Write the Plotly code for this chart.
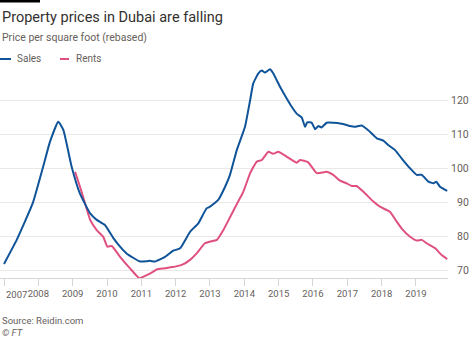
import plotly.graph_objects as go

# Sales index (decimal year, value)
sales_year = [2007.00, 2007.37, 2007.84, 2008.14, 2008.34, 2008.58, 2008.73, 2008.97,
              2009.21, 2009.51, 2009.70, 2009.94, 2010.18, 2010.38, 2010.57, 2010.96,
              2011.25, 2011.40, 2011.69, 2011.93, 2012.13, 2012.42, 2012.66, 2012.90,
              2013.00, 2013.24, 2013.44, 2013.58, 2013.78, 2014.02, 2014.17, 2014.26,
              2014.41, 2014.51, 2014.60, 2014.75, 2014.84, 2015.04, 2015.23, 2015.38,
              2015.53, 2015.67, 2015.77, 2015.83, 2015.96, 2016.06, 2016.16, 2016.25,
              2016.40, 2016.79, 2016.88, 2017.08, 2017.22, 2017.42, 2017.61, 2017.86,
              2018.05, 2018.19, 2018.39, 2018.58, 2018.83, 2019.02, 2019.17, 2019.36,
              2019.51, 2019.59, 2019.70, 2019.91]
sales_value = [71.8, 78.9, 89.8, 100.5, 107.9, 113.8, 111.3, 100.5,
               92.6, 86.7, 84.8, 83.3, 79.5, 76.9, 74.9, 72.5,
               72.7, 72.5, 73.9, 75.7, 76.4, 81.3, 83.8, 88.2,
               88.7, 90.7, 94.6, 98.0, 105.4, 112.3, 120.2, 125.1,
               128.1, 128.9, 128.3, 129.3, 128.1, 124.1, 120.7, 118.2,
               116.1, 115.1, 112.3, 113.6, 113.5, 111.6, 112.5, 112.1,
               113.5, 113.3, 113.1, 112.5, 112.3, 112.7, 111.3, 108.9,
               108.2, 106.9, 105.4, 103.0, 100.0, 98.1, 98.1, 96.1,
               95.6, 96.1, 94.6, 93.4]

# Rents index (decimal year, value)
rents_year = [2009.07, 2009.26, 2009.51, 2009.70, 2009.89, 2010.01, 2010.14, 2010.38,
              2010.67, 2010.94, 2011.16, 2011.35, 2011.45, 2011.69, 2011.84, 2011.98,
              2012.18, 2012.42, 2012.61, 2012.85, 2013.00, 2013.20, 2013.39, 2013.58,
              2013.82, 2013.97, 2014.17, 2014.36, 2014.51, 2014.70, 2014.84, 2014.99,
              2015.23, 2015.53, 2015.62, 2015.86, 2016.11, 2016.40, 2016.59, 2016.79,
              2016.98, 2017.13, 2017.27, 2017.47, 2017.76, 2017.95, 2018.24, 2018.44,
              2018.58, 2018.83, 2019.02, 2019.17, 2019.31, 2019.56, 2019.75, 2019.91]
rents_value = [99.0, 93.1, 84.8, 81.8, 79.8, 76.9, 77.1, 73.9,
               70.5, 67.6, 68.5, 69.5, 70.2, 70.5, 70.8, 71.0,
               71.5, 73.0, 74.9, 77.9, 78.4, 78.9, 81.8, 85.5,
               90.2, 93.1, 98.6, 102.0, 102.5, 104.9, 104.3, 104.9,
               103.5, 101.7, 102.5, 101.8, 98.6, 99.0, 98.1, 96.4,
               95.6, 94.8, 94.8, 93.1, 90.2, 88.7, 87.2, 84.3,
               82.3, 79.8, 78.7, 78.9, 77.9, 76.4, 74.4, 73.2]

year_ticks = list(range(2007, 2020))
value_ticks = [70, 80, 90, 100, 110, 120]

SALES_COLOR = "#0f5499"
RENTS_COLOR = "#e0507f"
GREY = "#66605c"
FONT = "Roboto"

W, H = 474, 338
L, R, T, B = 0, 26, 62, 60
PW, PH = W - L - R, H - T - B


def px(x):
    return (x - L) / PW


def py(y):
    return 1 - (y - T) / PH


fig = go.Figure()
fig.add_trace(go.Scatter(x=rents_year, y=rents_value, mode="lines", name="Rents",
                         line=dict(color=RENTS_COLOR, width=2, shape="spline", smoothing=0.4),
                         showlegend=False))
fig.add_trace(go.Scatter(x=sales_year, y=sales_value, mode="lines", name="Sales",
                         line=dict(color=SALES_COLOR, width=2, shape="spline", smoothing=0.4),
                         showlegend=False))

annotations = []
# right-aligned value labels
for v in value_ticks:
    annotations.append(dict(x=1, xref="paper", xshift=23, y=v, yref="y", text=str(v),
                            showarrow=False, xanchor="right", yanchor="middle",
                            font=dict(family=FONT, size=10.5, color=GREY)))
# first year label nudged inside the frame
annotations.append(dict(x=px(4), xref="paper", y=py(294), yref="paper",
                        text=str(year_ticks[0]), showarrow=False, xanchor="left", yanchor="middle",
                        font=dict(family=FONT, size=9.5, color=GREY)))

# headings, legend and footer
texts = [
    (0, 17, "Property prices in Dubai are falling", 14.5, "#33302e"),
    (0, 38, "Price per square foot (rebased)", 10.5, GREY),
    (15, 58.5, "Sales", 10, GREY),
    (74, 58.5, "Rents", 10, GREY),
    (0, 320, "Source: Reidin.com", 9.5, GREY),
    (0, 332, "<i>© FT</i>", 9.5, GREY),
]
for x, y, t, s, c in texts:
    annotations.append(dict(x=px(x), y=py(y), xref="paper", yref="paper", text=t,
                            showarrow=False, xanchor="left", yanchor="middle",
                            font=dict(family=FONT, size=s, color=c)))

shapes = [
    # black bar at top-left
    dict(type="rect", xref="paper", yref="paper", x0=px(0), x1=px(40), y0=py(0), y1=py(2.5),
         fillcolor="#000000", line=dict(width=0)),
    # legend swatches
    dict(type="line", xref="paper", yref="paper", x0=px(0), x1=px(11), y0=py(59), y1=py(59),
         line=dict(color=SALES_COLOR, width=2)),
    dict(type="line", xref="paper", yref="paper", x0=px(60), x1=px(69), y0=py(59), y1=py(59),
         line=dict(color=RENTS_COLOR, width=2)),
]

fig.update_layout(
    width=W, height=H,
    margin=dict(l=L, r=R, t=T, b=B),
    paper_bgcolor="white", plot_bgcolor="white",
    showlegend=False,
    annotations=annotations,
    shapes=shapes,
    xaxis=dict(range=[2006.883, 2019.933], tickmode="array", tickvals=year_ticks,
               ticktext=[""] + [str(y) for y in year_ticks[1:]],
               showgrid=False, zeroline=False, showline=True, linecolor="#d9d5d2", linewidth=1,
               ticks="outside", ticklen=7, tickcolor="#d9d5d2",
               tickfont=dict(family=FONT, size=9.5, color=GREY)),
    yaxis=dict(range=[67.64, 131.43], tickmode="array", tickvals=value_ticks,
               showticklabels=False, showgrid=True, gridcolor="#ebe8e6", gridwidth=1,
               zeroline=False, showline=False),
)

fig.write_html("out.html")
